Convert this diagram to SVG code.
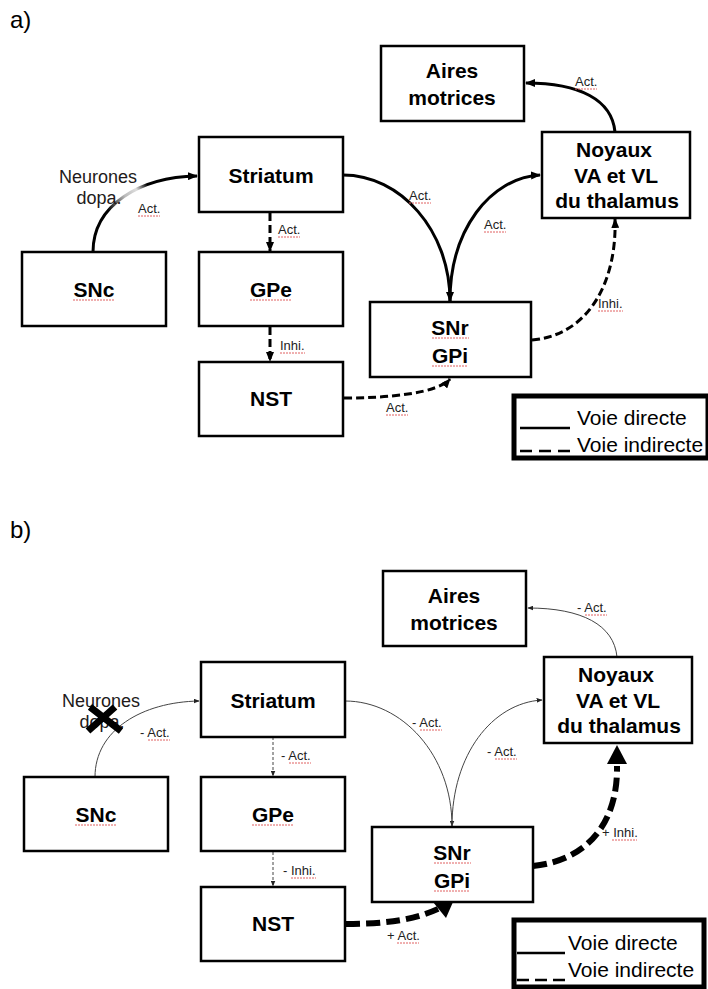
<svg xmlns="http://www.w3.org/2000/svg" width="708" height="989" viewBox="0 0 708 989">
<style>
.box{fill:#fff;stroke:#000;stroke-width:2.5}
.nt{font-family:"Liberation Sans",Arial,sans-serif;font-weight:bold;font-size:21px;text-anchor:middle;fill:#000}
.lb{font-family:"Liberation Sans",Arial,sans-serif;font-size:13px;fill:#222}
.nd{font-family:"Liberation Sans",Arial,sans-serif;font-size:18px;text-anchor:middle;fill:#221a1a}
.pl{font-family:"Liberation Sans",Arial,sans-serif;font-size:24px;fill:#000}
.lg{font-family:"Liberation Sans",Arial,sans-serif;font-size:21px;fill:#000}
.sq{stroke:#e06060;stroke-width:1;stroke-dasharray:2 1;fill:none}
.ca{fill:none;stroke:#000;stroke-width:3}
.cad{fill:none;stroke:#000;stroke-width:3;stroke-dasharray:8 4}
.cb{fill:none;stroke:#444;stroke-width:1}
.cbd{fill:none;stroke:#444;stroke-width:1;stroke-dasharray:3 2}
.cbt{fill:none;stroke:#000;stroke-width:6;stroke-dasharray:14 6}
.lgb{fill:#fff;stroke:#000;stroke-width:5}
</style>
<defs>
<marker id="ahA" viewBox="0 0 10 8" refX="9" refY="4" markerWidth="10" markerHeight="8" markerUnits="userSpaceOnUse" orient="auto"><path d="M0,0 L10,4 L0,8 z" fill="#000"/></marker>
<marker id="ahB" viewBox="0 0 10 8" refX="9" refY="4" markerWidth="6" markerHeight="5" markerUnits="userSpaceOnUse" orient="auto"><path d="M0,0 L10,4 L0,8 z" fill="#222"/></marker>
<linearGradient id="fade" gradientUnits="userSpaceOnUse" x1="93" y1="252" x2="199" y2="176">
<stop offset="0" stop-color="#000"/><stop offset="0.28" stop-color="#000"/><stop offset="0.45" stop-color="#bbb"/><stop offset="0.55" stop-color="#ddd"/><stop offset="0.64" stop-color="#000"/><stop offset="1" stop-color="#000"/>
</linearGradient>
</defs>
<rect width="708" height="989" fill="#fff"/>

<g id="panel-a">
<text class="pl" x="10" y="28">a)</text>
<g id="connectors-a">
<path class="ca" stroke="url(#fade)" style="stroke:url(#fade)" d="M93,252 C93,205 140,177 197,176" marker-end="url(#ahA)"/>
<path class="cad" d="M270,213 L270,251" marker-end="url(#ahA)"/>
<path class="cad" d="M270,327 L270,361" marker-end="url(#ahA)"/>
<path class="ca" d="M343,175 C400,175 450,230 450,301" marker-end="url(#ahA)"/>
<path class="ca" d="M450,301 C450,230 490,178 540,175" marker-end="url(#ahA)"/>
<path class="ca" d="M615,132 C612,100 580,83 526,83" marker-end="url(#ahA)"/>
<path class="cad" d="M344,398 C390,398 438,393 450,379" marker-end="url(#ahA)"/>
<path class="cad" d="M532,340 C590,335 617,280 615,219" marker-end="url(#ahA)"/>
<text class="lb" x="138" y="213">Act.</text>
<text class="lb" x="278" y="234">Act.</text>
<text class="lb" x="280" y="350">Inhi.</text>
<text class="lb" x="409" y="200">Act.</text>
<text class="lb" x="484" y="229">Act.</text>
<text class="lb" x="575" y="86">Act.</text>
<text class="lb" x="598" y="308">Inhi.</text>
<text class="lb" x="386" y="412">Act.</text>
<path class="sq" d="M138,216 h22 M278,237 h22 M280,353 h25 M409,203 h22 M484,232 h22 M575,89 h22 M598,311 h25 M386,415 h22"/>
</g>
<g id="label-neurones-a">
<text class="nd" x="98" y="183">Neurones</text>
<text class="nd" x="99" y="204">dopa.</text>
</g>
<g id="a-striatum"><rect class="box" x="199" y="137" width="144" height="75"/><text class="nt" x="271" y="183">Striatum</text></g>
<g id="a-snc"><rect class="box" x="22" y="252" width="144" height="74"/><text class="nt" x="94" y="297">SNc</text><path class="sq" d="M73,300 h41"/></g>
<g id="a-gpe"><rect class="box" x="199" y="252" width="144" height="74"/><text class="nt" x="271" y="297">GPe</text><path class="sq" d="M250,300 h42"/></g>
<g id="a-nst"><rect class="box" x="199" y="362" width="144" height="74"/><text class="nt" x="271" y="406">NST</text></g>
<g id="a-snr-gpi"><rect class="box" x="370" y="302" width="161" height="75"/><text class="nt" x="450" y="335">SNr</text><text class="nt" x="450" y="363">GPi</text><path class="sq" d="M432,338 h37 M432,366 h36"/></g>
<g id="a-noyaux"><rect class="box" x="542" y="132" width="148" height="86"/><text class="nt" x="614" y="157">Noyaux</text><text class="nt" x="616" y="183">VA et VL</text><text class="nt" x="617" y="208">du thalamus</text></g>
<g id="a-aires"><rect class="box" x="381" y="46" width="143" height="75"/><text class="nt" x="452" y="78">Aires</text><text class="nt" x="452" y="105">motrices</text></g>
<g id="a-legend">
<rect class="lgb" x="514" y="396" width="194" height="62"/>
<line x1="520" y1="428" x2="570" y2="428" stroke="#000" stroke-width="2.5"/>
<line x1="520" y1="451" x2="570" y2="451" stroke="#000" stroke-width="2.5" stroke-dasharray="12 7"/>
<text class="lg" x="577" y="425">Voie directe</text>
<text class="lg" x="577" y="452">Voie indirecte</text>
</g>
</g>

<g id="panel-b">
<text class="pl" x="10" y="538">b)</text>
<g transform="translate(2,525)">
<g id="connectors-b">
<path class="cb" d="M93,252 C93,205 140,177 197,176" marker-end="url(#ahB)"/>
<path class="cbd" d="M271,212 L271,251" marker-end="url(#ahB)"/>
<path class="cbd" d="M271,327 L271,361" marker-end="url(#ahB)"/>
<path class="cb" d="M343,176 C400,176 450,230 450,301" marker-end="url(#ahB)"/>
<path class="cb" d="M450,301 C450,230 490,178 540,175" marker-end="url(#ahB)"/>
<path class="cb" d="M615,132 C612,100 580,83 526,83" marker-end="url(#ahB)"/>
<path class="cbt" d="M344,399 C383,399 413,395 438,383"/>
<polygon points="431,377 451,377 444,393" fill="#000"/>
<path class="cbt" d="M531,341 C588,335 616,295 615,241"/>
<polygon points="615,220 605,239 625,239" fill="#000"/>
<text class="lb" x="138" y="212">- Act.</text>
<text class="lb" x="279" y="235">- Act.</text>
<text class="lb" x="281" y="350">- Inhi.</text>
<text class="lb" x="410" y="202">- Act.</text>
<text class="lb" x="485" y="231">- Act.</text>
<text class="lb" x="575" y="87">- Act.</text>
<text class="lb" x="600" y="312">+ Inhi.</text>
<text class="lb" x="385" y="415">+ Act.</text>
<path class="sq" d="M146,215 h22 M287,238 h22 M289,353 h25 M418,205 h22 M493,234 h22 M583,90 h22 M610,315 h25 M395,418 h22"/>
</g>
<g id="label-neurones-b">
<text class="nd" x="99" y="182">Neurones</text>
<text class="nd" x="100" y="203">dopa.</text>
<path d="M88,182 L119,206 M113,182 L86,206" stroke="#000" stroke-width="7" fill="none"/>
</g>
<g id="b-striatum"><rect class="box" x="199" y="137" width="144" height="75"/><text class="nt" x="271" y="183">Striatum</text></g>
<g id="b-snc"><rect class="box" x="22" y="252" width="144" height="74"/><text class="nt" x="94" y="297">SNc</text><path class="sq" d="M73,300 h41"/></g>
<g id="b-gpe"><rect class="box" x="199" y="252" width="144" height="74"/><text class="nt" x="271" y="297">GPe</text><path class="sq" d="M250,300 h42"/></g>
<g id="b-nst"><rect class="box" x="199" y="362" width="144" height="74"/><text class="nt" x="271" y="406">NST</text></g>
<g id="b-snr-gpi"><rect class="box" x="370" y="302" width="161" height="75"/><text class="nt" x="450" y="335">SNr</text><text class="nt" x="450" y="363">GPi</text><path class="sq" d="M432,338 h37 M432,366 h36"/></g>
<g id="b-noyaux"><rect class="box" x="542" y="132" width="148" height="86"/><text class="nt" x="614" y="157">Noyaux</text><text class="nt" x="616" y="183">VA et VL</text><text class="nt" x="617" y="208">du thalamus</text></g>
<g id="b-aires"><rect class="box" x="381" y="46" width="143" height="75"/><text class="nt" x="452" y="78">Aires</text><text class="nt" x="452" y="105">motrices</text></g>
<g id="b-legend">
<rect class="lgb" x="512" y="395" width="190" height="67"/>
<line x1="515" y1="428" x2="563" y2="428" stroke="#000" stroke-width="2.5"/>
<line x1="515" y1="455" x2="563" y2="455" stroke="#000" stroke-width="2.5" stroke-dasharray="12 6"/>
<text class="lg" x="566" y="425">Voie directe</text>
<text class="lg" x="566" y="452">Voie indirecte</text>
</g>
</g>
</g>
</svg>
